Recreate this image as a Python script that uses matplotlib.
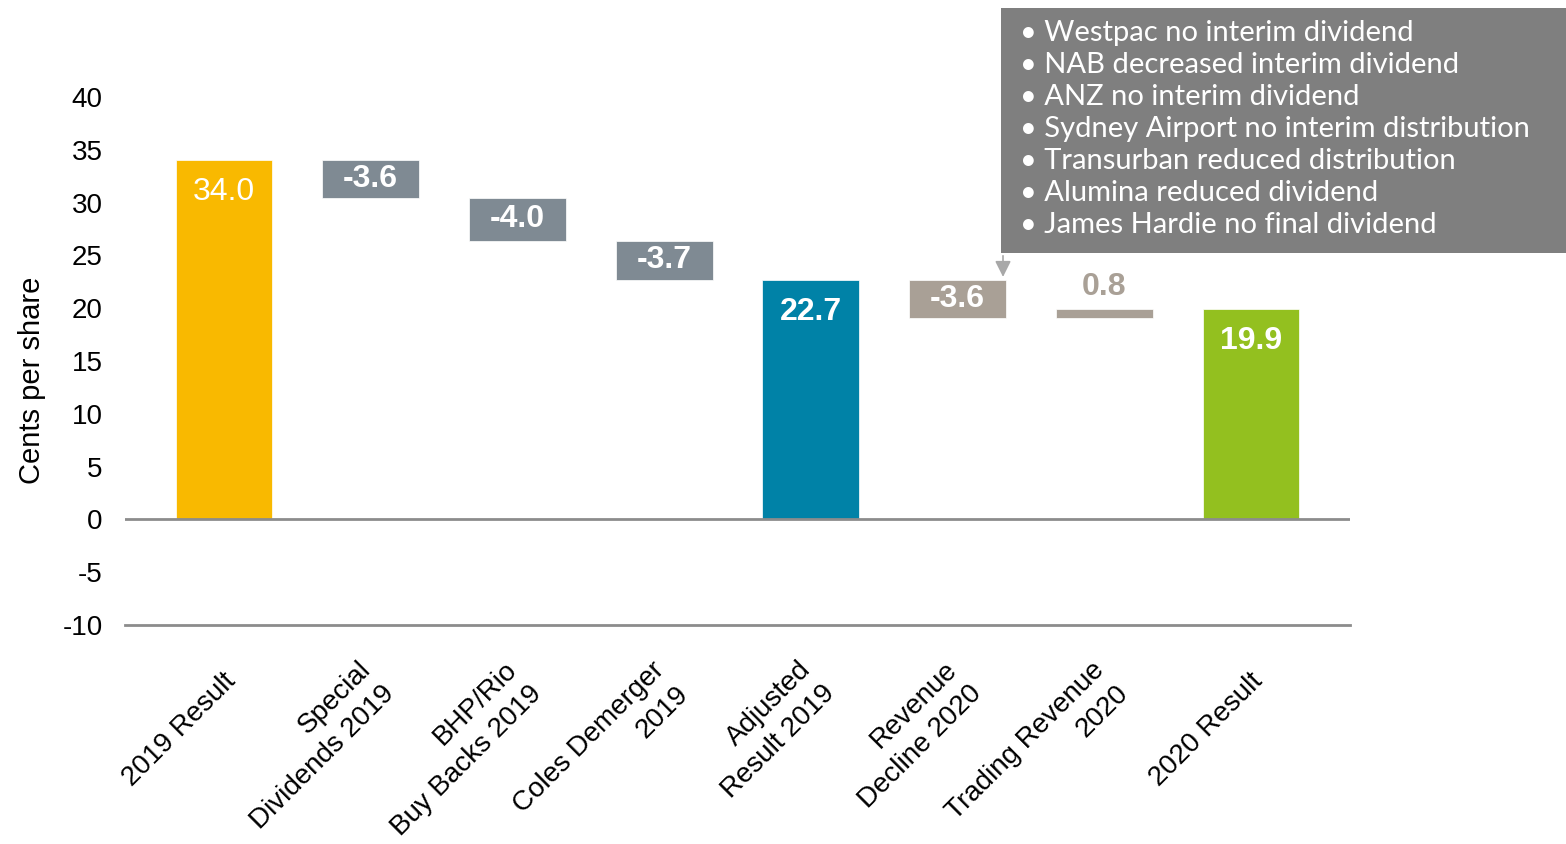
import matplotlib
matplotlib.use("Agg")
from matplotlib import pyplot as plt
from matplotlib.patches import Rectangle
from matplotlib.transforms import ScaledTranslation

plt.rcParams["font.family"] = ["Liberation Sans", "DejaVu Sans"]
plt.rcParams["axes.unicode_minus"] = False

categories = [
    "2019 Result",
    "Special\nDividends 2019",
    "BHP/Rio\nBuy Backs 2019",
    "Coles Demerger\n2019",
    "Adjusted\nResult 2019",
    "Revenue\nDecline 2020",
    "Trading Revenue\n2020",
    "2020 Result",
]
values = [34.0, -3.6, -4.0, -3.7, 22.7, -3.6, 0.8, 19.9]
is_total = [True, False, False, False, True, False, False, True]
colors = ["#F9B900", "#7F8A93", "#7F8A93", "#7F8A93", "#0082A7", "#A9A096", "#A9A096", "#93C01F"]

notes = [
    "Westpac no interim dividend",
    "NAB decreased interim dividend",
    "ANZ no interim dividend",
    "Sydney Airport no interim distribution",
    "Transurban reduced distribution",
    "Alumina reduced dividend",
    "James Hardie no final dividend",
]

# waterfall bottoms / heights
bottoms = []
heights = []
running = 0
for v, tot in zip(values, is_total):
    if tot:
        bottoms.append(0)
        heights.append(v)
        running = v
    else:
        new = running + v
        bottoms.append(min(running, new))
        heights.append(abs(v))
        running = new

fig = plt.figure(figsize=(15.66, 8.44), dpi=100)
ax = fig.add_axes([125 / 1566, 1 - 625 / 844, (1350 - 125) / 1566, (625 - 97) / 844])

x = list(range(len(values)))
bw = 0.66
ax.bar(x, heights, bottom=bottoms, width=bw, color=colors, edgecolor="white", linewidth=0.5)

for i, v in enumerate(values):
    top = bottoms[i] + heights[i]
    if is_total[i]:
        ax.annotate(f"{v:.1f}", (i, top), xytext=(0, -23), textcoords="offset points",
                    ha="center", va="center", color="white", fontsize=23,
                    fontweight="normal" if i == 0 else "bold")
    elif v > 0:
        ax.annotate(f"{v:.1f}", (i, top), xytext=(0, 16), textcoords="offset points",
                    ha="center", va="center", color=colors[i], fontsize=23, fontweight="bold")
    else:
        ax.text(i, bottoms[i] + heights[i] / 2, f"{v:.1f}", ha="center", va="center",
                color="white", fontsize=23, fontweight="bold")

ax.axhline(0, color="#8C8C8C", lw=2)
ax.set_xlim(-0.675, 7.675)
ax.set_ylim(-10, 40)
ax.set_yticks(range(-10, 41, 5))
ax.tick_params(axis="y", length=0, labelsize=20, pad=16)
ax.tick_params(axis="x", length=0, labelsize=20, pad=38)
ax.set_xticks(x)
ax.set_xticklabels(categories, rotation=45, ha="right", va="center",
                   rotation_mode="anchor", multialignment="right", linespacing=1.4)
shift = ScaledTranslation(8 / 100, 0, fig.dpi_scale_trans)
for lbl in ax.get_xticklabels():
    lbl.set_transform(lbl.get_transform() + shift)
for s in ["top", "right", "left"]:
    ax.spines[s].set_visible(False)
ax.spines["bottom"].set_color("#8C8C8C")
ax.spines["bottom"].set_linewidth(2)
ax.set_ylabel("Cents per share", fontsize=21, labelpad=12, y=0.464)

# notes box
fig.patches.append(Rectangle((1001 / 1566, 1 - 253 / 844), 1 - 1001 / 1566, 245 / 844,
                             transform=fig.transFigure, facecolor="#7F7F7F", edgecolor="none"))
for i, line in enumerate(notes):
    fig.text(1020 / 1566, 1 - (33 + 32 * i) / 844, "\u2022 " + line, color="white",
             fontsize=21, va="center", ha="left", family=["Lato", "DejaVu Sans"])

# pointer from the box to revenue decline
ax.annotate("", xy=(5 + bw / 2 - 0.02, 22.7), xycoords="data",
            xytext=(1003 / 1566, 1 - 253 / 844), textcoords="figure fraction",
            arrowprops=dict(arrowstyle="-|>", color="#A8A8A8", lw=1.2, mutation_scale=24))

fig.savefig("out.png", dpi=100)
